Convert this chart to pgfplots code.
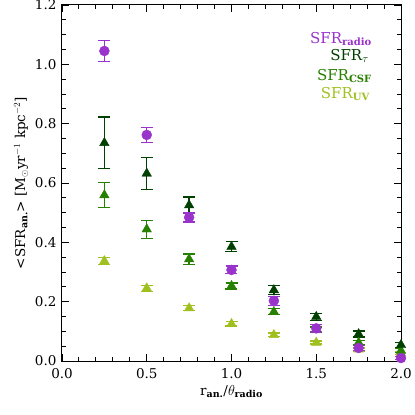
\documentclass[border=0pt]{standalone}
\usepackage{pgfplots}
\usepackage{fontspec}
\setmainfont{DejaVu Serif}
\pgfplotsset{compat=1.18}
\definecolor{cradio}{RGB}{153,51,204}
\definecolor{ctau}{RGB}{0,64,0}
\definecolor{ccsf}{RGB}{40,128,0}
\definecolor{cuv}{RGB}{160,192,32}
\begin{document}
\begin{tikzpicture}
\path[use as bounding box] (-62pt,-54pt) rectangle (353pt,361pt);
\begin{axis}[
  at={(0pt,0pt)}, anchor=south west,
  scale only axis, width=339pt, height=356pt,
  xmin=0, xmax=2, ymin=0, ymax=1.2,
  xtick={0,0.5,...,2}, ytick={0,0.2,...,1.2},
  minor x tick num=4, minor y tick num=3,
  /pgf/number format/assume math mode=true,
  xticklabel style={yshift=-4pt,/pgf/number format/.cd,fixed,fixed zerofill,precision=1},
  yticklabel style={xshift=-2pt,/pgf/number format/.cd,fixed,fixed zerofill,precision=1},
  tick label style={font=\fontsize{13.5}{15}\selectfont},
  tick align=inside, major tick length=7pt, minor tick length=4pt,
  every tick/.style={black, line width=0.9pt},
  axis line style={line width=1pt},
  xlabel={r$_{\textbf{\fontsize{9.5}{11}\selectfont an.}}$/$\theta_{\textbf{\fontsize{9.5}{11}\selectfont radio}}$},
  ylabel={<SFR$_{\textbf{\fontsize{9.5}{11}\selectfont an.}}$> [M$_\odot$yr$^{-1}$ kpc$^{-2}$]},
  label style={font=\fontsize{13.5}{15}\selectfont},
  error bars/error bar style={line width=1.3pt},
  error bars/error mark options={rotate=90, mark size=6pt, line width=1.3pt},
]
\addplot[only marks, color=cuv, mark=triangle*, mark size=5.5pt,
  error bars/.cd, y dir=both, y explicit] coordinates {
 (0.25,0.337) +- (0,0.012)
 (0.5,0.245) +- (0,0.010)
 (0.75,0.178) +- (0,0.008)
 (1.0,0.125) +- (0,0.007)
 (1.25,0.088) +- (0,0.006)
 (1.5,0.062) +- (0,0.005)
 (1.75,0.039) +- (0,0.005)
 (2.0,0.026) +- (0,0.004)
};
\addplot[only marks, color=ccsf, mark=triangle*, mark size=5.5pt,
  error bars/.cd, y dir=both, y explicit] coordinates {
 (0.25,0.559) +- (0,0.042)
 (0.5,0.444) +- (0,0.030)
 (0.75,0.343) +- (0,0.018)
 (1.0,0.253) +- (0,0.010)
 (1.25,0.166) +- (0,0.010)
 (1.5,0.107) +- (0,0.008)
 (1.75,0.062) +- (0,0.007)
 (2.0,0.035) +- (0,0.006)
};
\addplot[only marks, color=ctau, mark=triangle*, mark size=5.5pt,
  error bars/.cd, y dir=both, y explicit] coordinates {
 (0.25,0.735) +- (0,0.087)
 (0.5,0.632) +- (0,0.053)
 (0.75,0.525) +- (0,0.028)
 (1.0,0.385) +- (0,0.017)
 (1.25,0.239) +- (0,0.015)
 (1.5,0.149) +- (0,0.012)
 (1.75,0.091) +- (0,0.010)
 (2.0,0.054) +- (0,0.008)
};
\addplot[only marks, color=cradio, mark=*, mark size=5pt,
  error bars/.cd, y dir=both, y explicit] coordinates {
 (0.25,1.045) +- (0,0.036)
 (0.5,0.762) +- (0,0.025)
 (0.75,0.484) +- (0,0.015)
 (1.0,0.307) +- (0,0.013)
 (1.25,0.203) +- (0,0.015)
 (1.5,0.110) +- (0,0.012)
 (1.75,0.044) +- (0,0.008)
 (2.0,0.010) +- (0,0.006)
};
\end{axis}
\begin{scope}[every node/.style={anchor=east, font=\fontsize{15}{17}\selectfont, inner sep=0pt}]
\node[text=cradio] at (310pt,322pt) {SFR$_{\textbf{\fontsize{10}{12}\selectfont radio}}$};
\node[text=ctau] at (307pt,305pt) {SFR$_{\tau}$};
\node[text=ccsf] at (310pt,285pt) {SFR$_{\textbf{\fontsize{10}{12}\selectfont CSF}}$};
\node[text=cuv] at (308pt,267pt) {SFR$_{\textbf{\fontsize{10}{12}\selectfont UV}}$};
\end{scope}
\end{tikzpicture}
\end{document}
